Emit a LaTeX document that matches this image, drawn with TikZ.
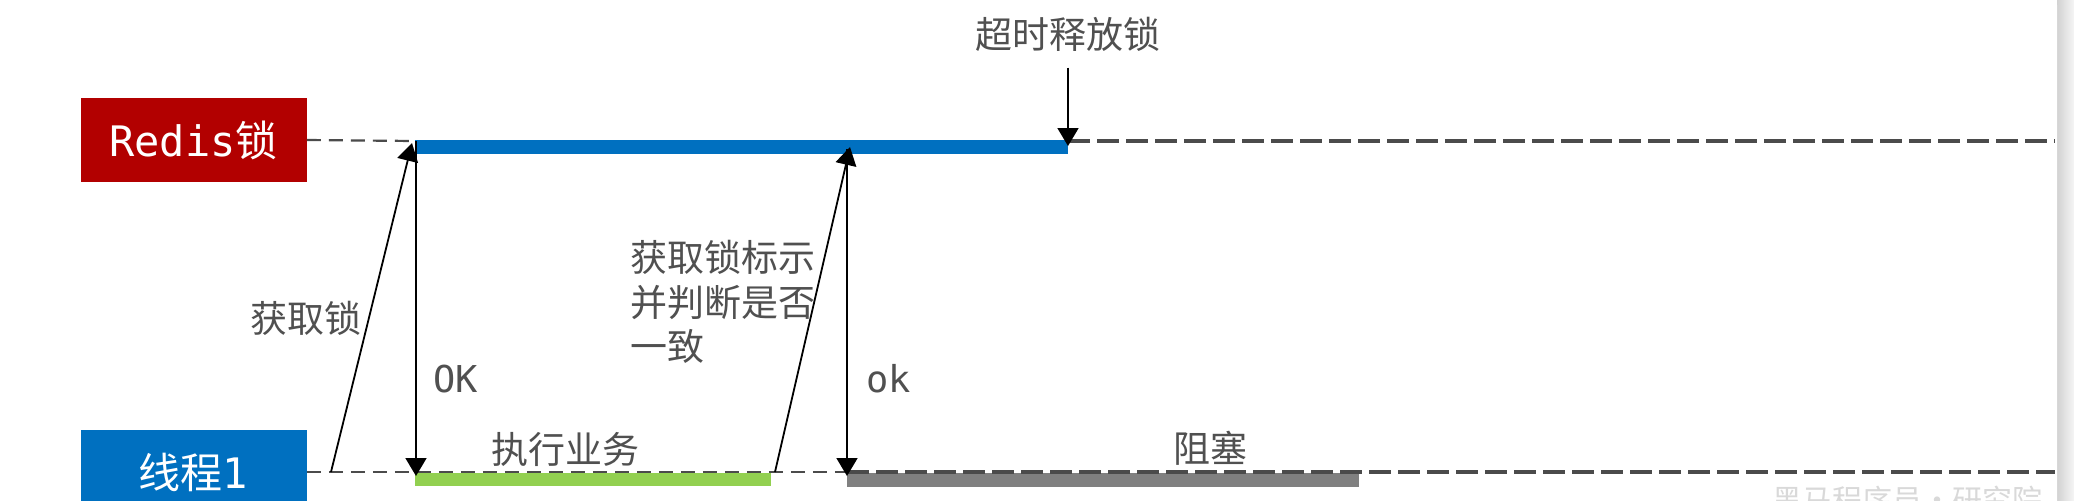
\documentclass[tikz,border=0pt]{standalone}
\usepackage{fontspec}
\setmainfont{DejaVu Sans Mono}
\newfontfamily\cjk{Noto Sans CJK SC}
\usetikzlibrary{positioning,arrows.meta}
\definecolor{lockred}{RGB}{178,0,0}
\definecolor{threadblue}{RGB}{0,112,192}
\definecolor{workgreen}{RGB}{146,208,80}
\definecolor{waitgray}{RGB}{128,128,128}
\definecolor{textgray}{RGB}{80,80,80}
\definecolor{linegray}{RGB}{75,75,75}

\begin{document}
\begin{tikzpicture}[x=0.5pt,y=-0.5pt,
  actor/.style={minimum width=113pt,minimum height=42pt,inner sep=0pt,text=white,font=\fontsize{21}{24}\selectfont},
  lbl/.style={text=textgray,inner sep=0pt,font=\cjk\fontsize{18.5}{22.25}\selectfont},
  ascii/.style={text=textgray,inner sep=0pt,font=\fontsize{18.5}{22}\selectfont},
  msg/.style={draw=black,line width=0.9pt,-{Triangle[length=9pt,width=10.5pt]}},
  life/.style={draw=linegray,line width=1.1pt,dash pattern=on 7pt off 4pt},
  lifeend/.style={draw=linegray,line width=1.7pt,dash pattern=on 11pt off 3.5pt}]
\useasboundingbox (0,0) rectangle (2074,500);

% Card and its shadow
\fill[white] (0,0) rectangle (2074,500);
\shade[left color=gray!35,right color=gray!8] (2057,0) rectangle (2074,500);
\fill[white,rounded corners=4pt] (-10,-3) rectangle (2057,520);
\node[anchor=north west,inner sep=0pt,text=gray!30,font=\cjk\fontsize{15}{18}\selectfont] (mark) at (1772,486) {黑马程序员·研究院};

% Actors
\node[actor,fill=lockred] (redis) at (193.5,140) {Redis{\cjk 锁}};
\node[actor,fill=threadblue] (thread) at (193.5,472) {{\cjk 线程}1};

% Points on the time lines
\coordinate (lockOn) at (415,141);
\coordinate (lockOff) at (1068,141);
\coordinate (redisEnd) at (2055,141);
\coordinate (waitOn) at (847,472);
\coordinate (threadEnd) at (2055,472);
\coordinate (getS) at (331,472);
\coordinate (getT) at (412,143);
\coordinate (okT) at (416,141);
\coordinate (okB) at (416,476);
\coordinate (chkS) at (775,472);
\coordinate (chkT) at (850,147);
\coordinate (ok2T) at (847,149);
\coordinate (ok2B) at (847,476);
\coordinate (relT) at (1068,146);

% Bars
\fill[threadblue] (415,140) rectangle (1068,154);
\fill[workgreen] (415,473) rectangle (771,486);
\fill[waitgray] (847,473) rectangle (1359,487);

% Time lines
\draw[life] (redis.east) -- (lockOn);
\draw[lifeend] (lockOff) -- (redisEnd);
\draw[life] (thread.east) -- (waitOn);
\draw[lifeend] (waitOn) -- (threadEnd);

% Labels
\node[lbl] (release) at (1068,34) {超时释放锁};
\node[lbl] (getlbl) at (306,318) {获取锁};
\node[lbl,align=left,anchor=west] (checklbl) at (630,302) {获取锁标示\\并判断是否\\一致};
\node[ascii,anchor=base west] (oklbl) at (433,392) {OK};
\node[ascii,anchor=base west] (ok2lbl) at (866,392) {ok};
\node[lbl] (worklbl) at (565,449) {执行业务};
\node[lbl] (waitlbl) at (1210,448) {阻塞};

% Messages
\draw[msg] (getS) -- (getT);
\draw[msg] (okT) -- (okB);
\draw[msg] (chkS) -- (chkT);
\draw[msg] (ok2T) -- (ok2B);
\draw[msg,shorten <=8pt] (release.south) -- (relT);
\end{tikzpicture}
\end{document}
